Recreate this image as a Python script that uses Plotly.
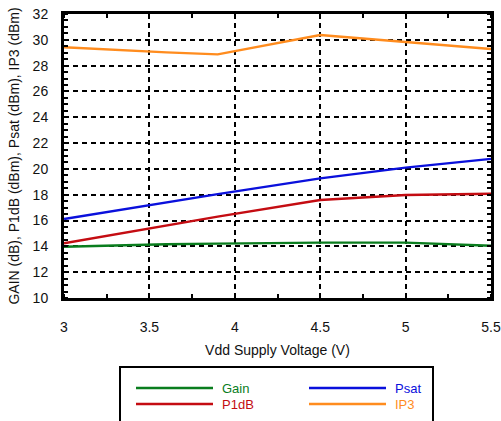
import plotly.graph_objects as go

vdd = [3.0, 3.3, 3.6, 3.9, 4.5, 5.0, 5.5]
gain = [13.97, 14.08, 14.16, 14.21, 14.29, 14.29, 14.05]
p1db = [14.24, 14.93, 15.65, 16.30, 17.59, 17.98, 18.08]
psat = [16.12, 16.76, 17.41, 18.05, 19.27, 20.10, 20.78]
ip3 = [29.42, 29.21, 29.03, 28.87, 30.37, 29.83, 29.29]

names = ["Gain", "P1dB", "Psat", "IP3"]
colors = ["#0a7d1e", "#c40c12", "#0a10dc", "#ff8c1e"]
series = [gain, p1db, psat, ip3]

x_ticks = [3, 3.5, 4, 4.5, 5, 5.5]
x_tick_text = ["3", "3.5", "4", "4.5", "5", "5.5"]
y_ticks = list(range(10, 33, 2))

FONT = "Liberation Sans, Arial, sans-serif"

fig = go.Figure()
for n, c, s in zip(names, colors, series):
    fig.add_trace(go.Scatter(x=vdd, y=s, mode="lines", name=n,
                             line=dict(color=c, width=2.4), showlegend=False))

W, H = 501, 421
ml, mr, mt, mb = 64, 10, 14, 123
pw, ph = W - ml - mr, H - mt - mb

def px(xp):
    return (xp - ml) / pw

def py(yp):
    return (H - mb - yp) / ph

# manual legend (2 columns x 2 rows)
shapes = [dict(type="rect", xref="paper", yref="paper",
               x0=px(120), x1=px(433), y0=py(440), y1=py(367),
               line=dict(color="black", width=2), fillcolor="white", layer="above")]
annotations = []
positions = [(136, 388), (136, 404), (309, 388), (309, 404)]
for (lx, ly), n, c in zip(positions, names, colors):
    shapes.append(dict(type="line", xref="paper", yref="paper",
                       x0=px(lx), x1=px(lx + 77), y0=py(ly), y1=py(ly),
                       line=dict(color=c, width=2.5)))
    annotations.append(dict(xref="paper", yref="paper", x=px(lx + 84), y=py(ly),
                            text=n, showarrow=False, xanchor="left", yanchor="middle",
                            font=dict(family=FONT, size=13, color=c)))

fig.update_layout(
    width=W, height=H,
    margin=dict(l=ml, r=mr, t=mt, b=mb, autoexpand=False),
    paper_bgcolor="white", plot_bgcolor="white",
    font=dict(family=FONT, size=14, color="#111"),
    shapes=shapes, annotations=annotations,
    showlegend=False,
)
fig.update_xaxes(
    range=[3, 5.5], tickvals=x_ticks, ticktext=x_tick_text,
    showline=True, linewidth=3, linecolor="black", mirror="ticks",
    showgrid=True, gridcolor="black", gridwidth=2, griddash="5px,4px",
    ticks="", zeroline=False, ticklabelstandoff=14, automargin=False,
    minor=dict(dtick=0.25, ticks="inside", ticklen=4, tickcolor="black", tickwidth=2, showgrid=False),
    title=dict(text="Vdd Supply Voltage (V)", font=dict(size=14), standoff=12),
    tickfont=dict(size=14),
)
fig.update_yaxes(
    range=[10, 32], tickvals=y_ticks,
    showline=True, linewidth=3, linecolor="black", mirror="ticks",
    showgrid=True, gridcolor="black", gridwidth=2, griddash="5px,4px",
    ticks="", zeroline=False, ticklabelstandoff=10, automargin=False,
    minor=dict(dtick=0.5, ticks="inside", ticklen=4, tickcolor="black", tickwidth=2, showgrid=False),
    title=dict(text="GAIN (dB), P1dB (dBm), Psat (dBm), IP3 (dBm)", font=dict(size=14), standoff=10),
    tickfont=dict(size=14),
)

fig.write_html("out.html", config={"displayModeBar": False},
               post_script="document.body.style.margin='0';document.body.style.overflow='hidden';")
